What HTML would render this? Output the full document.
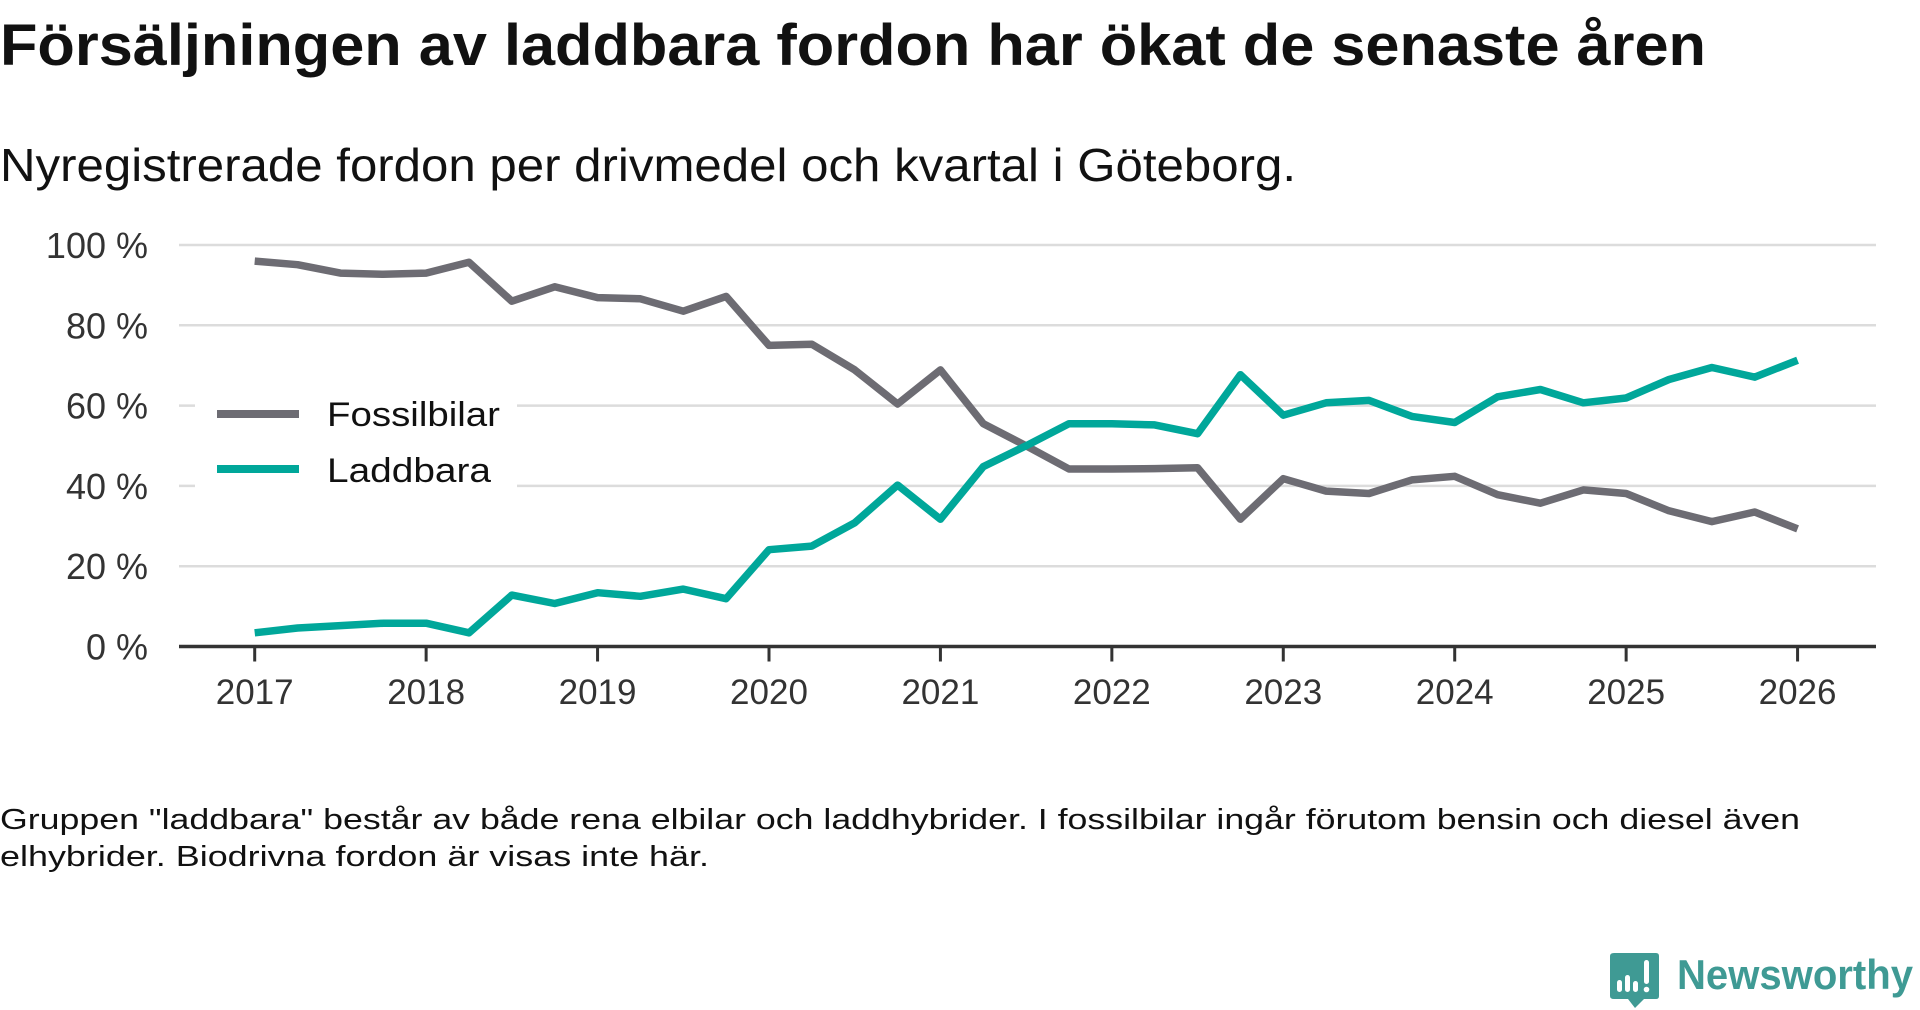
<!DOCTYPE html>
<html><head><meta charset="utf-8"><style>
html,body{margin:0;padding:0;background:#fff;}
svg{display:block;font-family:"Liberation Sans","DejaVu Sans",sans-serif;}
</style></head><body>
<svg id="chart" width="1920" height="1010" viewBox="0 0 1920 1010">
<text x="0" y="65" font-size="58" font-weight="bold" fill="#111" textLength="1706" lengthAdjust="spacingAndGlyphs">Försäljningen av laddbara fordon har ökat de senaste åren</text>
<text x="0" y="181" font-size="46" fill="#111" textLength="1296" lengthAdjust="spacingAndGlyphs">Nyregistrerade fordon per drivmedel och kvartal i Göteborg.</text>
<g id="grid"></g>
<g id="yaxis"></g>
<g id="xaxis"></g>
<g id="series"></g>
<g>
<rect x="195" y="388" width="322" height="108" fill="#fff"/>
<g>
<line x1="217" y1="414" x2="299" y2="414" stroke="#6d6c73" stroke-width="8"/>
<text x="327" y="426" font-size="34" fill="#111" textLength="173" lengthAdjust="spacingAndGlyphs">Fossilbilar</text>
</g>
<g>
<line x1="217" y1="469" x2="299" y2="469" stroke="#00a79a" stroke-width="8"/>
<text x="327" y="482" font-size="34" fill="#111" textLength="164" lengthAdjust="spacingAndGlyphs">Laddbara</text>
</g>
</g>
<text x="0" y="829" font-size="29" fill="#111" textLength="1800" lengthAdjust="spacingAndGlyphs">Gruppen "laddbara" består av både rena elbilar och laddhybrider. I fossilbilar ingår förutom bensin och diesel även</text>
<text x="0" y="866" font-size="29" fill="#111" textLength="709" lengthAdjust="spacingAndGlyphs">elhybrider. Biodrivna fordon är visas inte här.</text>
<g>
<path d="M1614 953 H1656 Q1659 953 1659 956 V996 Q1659 999 1656 999 H1644 L1635 1008 L1628 999 H1614 Q1610 999 1610 996 V956 Q1610 953 1614 953 Z" fill="#3f9a94"/>
<rect x="1617" y="980" width="5" height="12" rx="2.5" fill="#fff"/>
<rect x="1625" y="975" width="5" height="17" rx="2.5" fill="#fff"/>
<rect x="1633" y="981" width="5" height="11" rx="2.5" fill="#fff"/>
<rect x="1644" y="960" width="5" height="24" rx="2.5" fill="#fff"/>
<circle cx="1646.5" cy="989.5" r="2.8" fill="#fff"/>
<text x="1677" y="989" font-size="42" font-weight="bold" fill="#3f9a94" textLength="236" lengthAdjust="spacingAndGlyphs">Newsworthy</text>
</g>
</svg>
<script>
const yearTicks = [2017,2018,2019,2020,2021,2022,2023,2024,2025,2026];
const yTicks = [0,20,40,60,80,100];
const yTickLabels = ["0 %","20 %","40 %","60 %","80 %","100 %"];
const quarters = [2017,2017.25,2017.5,2017.75,2018,2018.25,2018.5,2018.75,2019,2019.25,2019.5,2019.75,2020,2020.25,2020.5,2020.75,2021,2021.25,2021.5,2021.75,2022,2022.25,2022.5,2022.75,2023,2023.25,2023.5,2023.75,2024,2024.25,2024.5,2024.75,2025,2025.25,2025.5,2025.75,2026];
const fossil = [96.0,95.1,93.0,92.7,93.0,95.7,86.0,89.6,86.9,86.6,83.5,87.2,75.0,75.3,68.9,60.4,68.9,55.5,50.0,44.2,44.2,44.3,44.5,31.7,41.8,38.7,38.1,41.5,42.4,37.8,35.7,39.0,38.1,33.8,31.1,33.5,29.3];
const laddbara = [3.4,4.6,5.2,5.8,5.8,3.4,12.8,10.7,13.4,12.5,14.3,11.9,24.1,25.0,30.8,40.2,31.7,44.8,50.0,55.5,55.5,55.2,53.0,67.7,57.6,60.7,61.3,57.3,55.8,62.2,64.0,60.7,61.9,66.5,69.5,67.1,71.3];

const NS = "http://www.w3.org/2000/svg";
const PX0 = 179, PX1 = 1876;
function xScale(v){ return 254.7 + (v - 2017) * 171.43; }
function yScale(v){ return 646.5 - v * 4.015; }
function mk(tag, attrs, parent){
  const el = document.createElementNS(NS, tag);
  for (const k in attrs) el.setAttribute(k, attrs[k]);
  parent.appendChild(el);
  return el;
}
const grid = document.getElementById('grid');
const yaxis = document.getElementById('yaxis');
const xaxis = document.getElementById('xaxis');
const series = document.getElementById('series');

yTicks.forEach((t, i) => {
  if (t > 0) {
    const g = mk('line', {x1: PX0, x2: PX1, y1: yScale(t), y2: yScale(t), stroke: '#dcdcdc', 'stroke-width': 2.5}, grid);
    
    
  }
  const lbl = mk('text', {x: 148, y: yScale(t) + 13, 'font-size': 36, fill: '#333', 'text-anchor': 'end'}, yaxis);
  lbl.textContent = yTickLabels[i];
  
  
});

const base = mk('line', {x1: PX0, x2: PX1, y1: yScale(0), y2: yScale(0), stroke: '#333', 'stroke-width': 3.5}, xaxis);


yearTicks.forEach(yr => {
  const tk = mk('line', {x1: xScale(yr), x2: xScale(yr), y1: yScale(0), y2: yScale(0) + 15, stroke: '#333', 'stroke-width': 3}, xaxis);
  
  
  const lbl = mk('text', {x: xScale(yr), y: 704, 'font-size': 35, fill: '#333', 'text-anchor': 'middle'}, xaxis);
  lbl.textContent = String(yr);
  
  
});

function drawLine(vals, color, name){
  const d = vals.map((v, i) => (i ? 'L' : 'M') + xScale(quarters[i]).toFixed(1) + ' ' + yScale(v).toFixed(1)).join(' ');
  const p = mk('path', {d: d, fill: 'none', stroke: color, 'stroke-width': 7.5, 'stroke-linejoin': 'round'}, series);
  
  
}
drawLine(fossil, '#6d6c73', 'line-fossilbilar');
drawLine(laddbara, '#00a79a', 'line-laddbara');
</script>
</body></html>
